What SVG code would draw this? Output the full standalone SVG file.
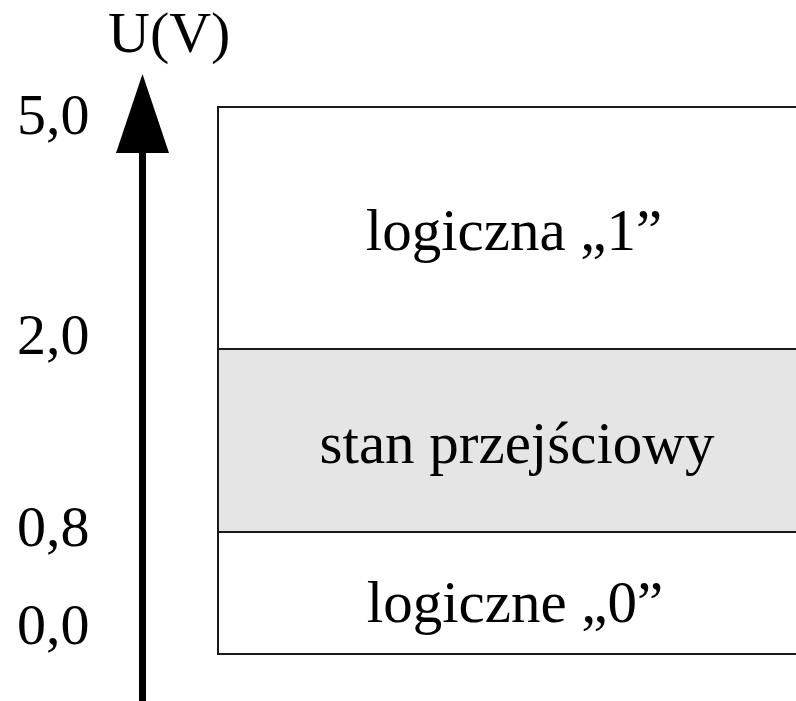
<svg xmlns="http://www.w3.org/2000/svg" width="796" height="701" viewBox="0 0 796 701">
<style>
text{font-family:"Liberation Serif","Times New Roman",serif;fill:#000}
.lbl{font-size:58px}
.box{stroke:#1a1a1a;stroke-width:2}
.zone{font-size:59px;text-anchor:middle}
</style>
<rect width="796" height="701" fill="#fff"/>
<g id="axis">
<rect x="139" y="145" width="7" height="560" fill="#000"/>
<polygon points="142.5,74 116,153 169,153" fill="#000"/>
<text class="lbl" x="108" y="52" font-size="59">U(V)</text>
</g>
<g id="ticks">
<text class="lbl" x="17" y="134">5,0</text>
<text class="lbl" x="17" y="354">2,0</text>
<text class="lbl" x="17" y="546">0,8</text>
<text class="lbl" x="17" y="644">0,0</text>
</g>
<g id="zone1">
<rect class="box" x="218" y="107" width="600" height="242" fill="#fff"/>
<text class="zone" x="514" y="250">logiczna „1”</text>
</g>
<g id="zoneTrans">
<rect class="box" x="218" y="349" width="600" height="183" fill="#e5e5e5"/>
<text class="zone" x="517" y="463" font-size="60">stan przejściowy</text>
</g>
<g id="zone0">
<rect class="box" x="218" y="532" width="600" height="122" fill="#fff"/>
<text class="zone" x="515" y="622">logiczne „0”</text>
</g>
</svg>
